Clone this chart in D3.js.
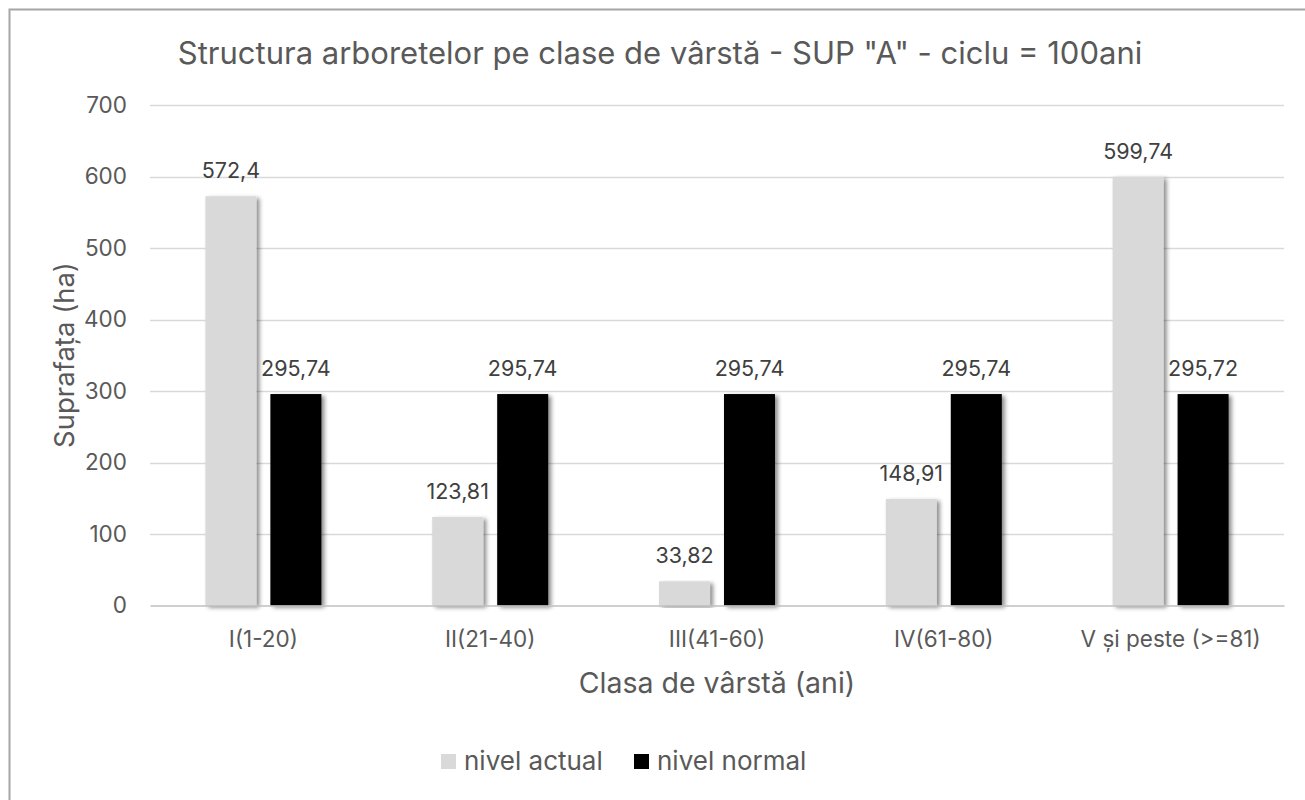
<!DOCTYPE html>
<html>
<head>
<meta charset="utf-8">
<script src="https://cdn.jsdelivr.net/npm/d3@7"></script>
<style>
  body { margin: 0; background: #fff; }
  svg { display: block; }
  svg text { font-family: Inter, "Open Sans", sans-serif; }
</style>
</head>
<body>
<div id="chart"></div>
<script>
// Data
const categories = ["I(1-20)", "II(21-40)", "III(41-60)", "IV(61-80)", "V și peste (>=81)"];
const seriesNames = ["nivel actual", "nivel normal"];
const nivelActual = [572.4, 123.81, 33.82, 148.91, 599.74];
const nivelNormal = [295.74, 295.74, 295.74, 295.74, 295.72];
const labelsActual = ["572,4", "123,81", "33,82", "148,91", "599,74"];
const labelsNormal = ["295,74", "295,74", "295,74", "295,74", "295,72"];
const yTicks = [0, 100, 200, 300, 400, 500, 600, 700];
const colors = ["#d9d9d9", "#000000"];

const width = 1305, height = 800;
const textColor = "#595959";

const svg = d3.select("#chart").append("svg")
  .attr("width", width)
  .attr("height", height);

// bar shadow
const defs = svg.append("defs");
defs.append("filter")
  .attr("id", "shadow")
  .attr("x", "-20%").attr("y", "-5%")
  .attr("width", "160%").attr("height", "115%")
  .append("feDropShadow")
  .attr("dx", 3).attr("dy", 2)
  .attr("stdDeviation", 2)
  .attr("flood-color", "#000")
  .attr("flood-opacity", 0.45);

// chart frame (runs past the right and bottom edges)
svg.append("rect")
  .attr("x", 9.5).attr("y", 9.5)
  .attr("width", 1310).attr("height", 810)
  .attr("fill", "#fff")
  .attr("stroke", "#a6a6a6")
  .attr("stroke-width", 2);

const plot = { left: 150, right: 1284, top: 105, bottom: 605.5 };

const y = d3.scaleLinear()
  .domain([0, 700])
  .range([plot.bottom, plot.top]);

const x0 = d3.scaleBand()
  .domain(categories)
  .range([plot.left, plot.right])
  .paddingInner(0.4885)
  .paddingOuter(0.24425);

const x1 = d3.scaleBand()
  .domain(seriesNames)
  .range([0, x0.bandwidth()])
  .paddingInner(0.215);

// gridlines
svg.append("g")
  .selectAll("line")
  .data(yTicks.filter(d => d > 0))
  .join("line")
  .attr("x1", plot.left).attr("x2", plot.right)
  .attr("y1", d => Math.round(y(d)) + 0.5)
  .attr("y2", d => Math.round(y(d)) + 0.5)
  .attr("stroke", "#d9d9d9")
  .attr("stroke-width", 1.5);

// y axis labels
const yAxis = svg.append("g")
  .attr("transform", `translate(${plot.left},0)`)
  .call(d3.axisLeft(y).tickValues(yTicks).tickSize(0).tickPadding(23));
yAxis.select(".domain").remove();
yAxis.selectAll("text")
  .attr("fill", textColor)
  .attr("font-size", 22.5);

// bars
const rows = categories.map((c, i) => ({
  cat: c,
  vals: [
    { s: seriesNames[0], v: nivelActual[i], lab: labelsActual[i] },
    { s: seriesNames[1], v: nivelNormal[i], lab: labelsNormal[i] }
  ]
}));

const groups = svg.append("g")
  .selectAll("g")
  .data(rows)
  .join("g")
  .attr("transform", d => `translate(${x0(d.cat)},0)`);

groups.selectAll("rect")
  .data(d => d.vals)
  .join("rect")
  .attr("x", d => x1(d.s))
  .attr("y", d => y(d.v))
  .attr("width", x1.bandwidth())
  .attr("height", d => y(0) - y(d.v))
  .attr("fill", (d, i) => colors[i])
  .attr("filter", "url(#shadow)");

groups.selectAll("text")
  .data(d => d.vals)
  .join("text")
  .attr("x", d => x1(d.s) + x1.bandwidth() / 2)
  .attr("y", d => y(d.v) - 18)
  .attr("text-anchor", "middle")
  .attr("fill", "#404040")
  .attr("font-size", 21.5)
  .text(d => d.lab);

// x axis
const xAxis = svg.append("g")
  .attr("transform", `translate(0,${plot.bottom})`)
  .call(d3.axisBottom(x0).tickSize(0).tickPadding(26));
xAxis.select(".domain")
  .attr("stroke", "#bfbfbf")
  .attr("stroke-width", 1.5);
xAxis.selectAll("text")
  .attr("fill", textColor)
  .attr("font-size", 22.5);

// title
svg.append("text")
  .attr("x", 660)
  .attr("y", 64)
  .attr("text-anchor", "middle")
  .attr("fill", textColor)
  .attr("font-size", 31)
  .text('Structura arboretelor pe clase de vârstă - SUP "A" - ciclu = 100ani');

// axis titles
svg.append("text")
  .attr("transform", "translate(74,355) rotate(-90)")
  .attr("text-anchor", "middle")
  .attr("fill", textColor)
  .attr("font-size", 27.5)
  .text("Suprafața (ha)");

svg.append("text")
  .attr("x", 717)
  .attr("y", 693)
  .attr("text-anchor", "middle")
  .attr("fill", textColor)
  .attr("font-size", 28.5)
  .text("Clasa de vârstă (ani)");

// legend
const legendX = [441, 634];
const legend = svg.append("g")
  .selectAll("g")
  .data(seriesNames)
  .join("g")
  .attr("transform", (d, i) => `translate(${legendX[i]},754)`);
legend.append("rect")
  .attr("width", 15).attr("height", 15)
  .attr("fill", (d, i) => colors[i]);
legend.append("text")
  .attr("x", 23)
  .attr("y", 16)
  .attr("fill", textColor)
  .attr("font-size", 26)
  .text(d => d);
</script>
</body>
</html>
